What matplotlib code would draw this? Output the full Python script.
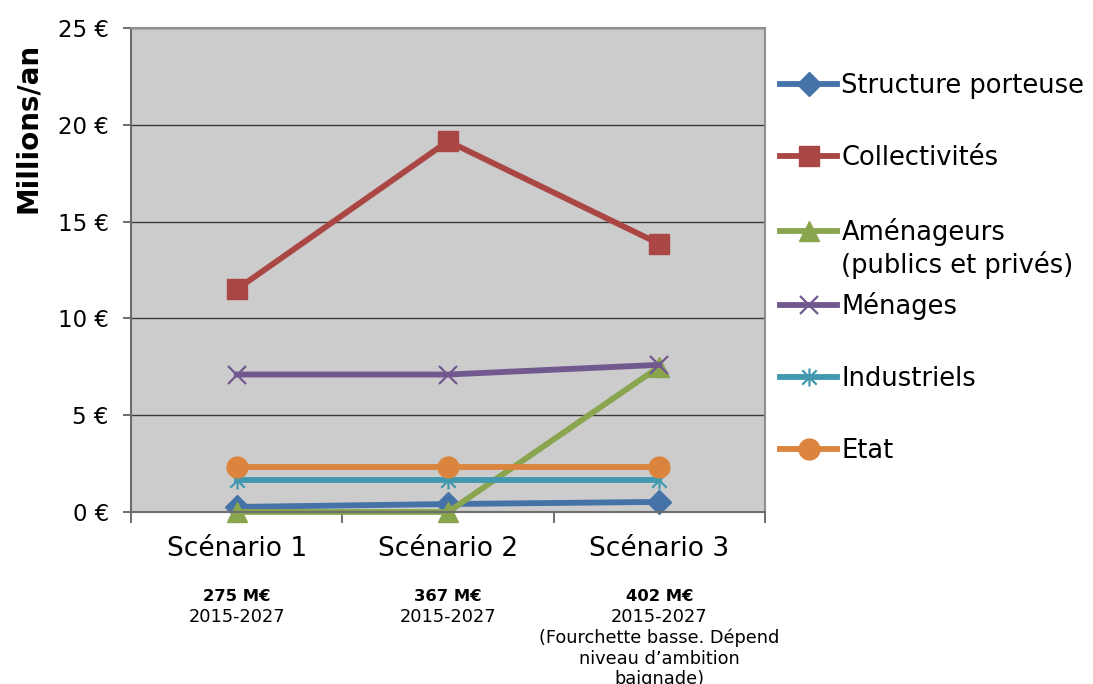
import matplotlib
matplotlib.use("Agg")
import matplotlib.pyplot as plt
from matplotlib.path import Path
from matplotlib.ticker import FuncFormatter, FixedLocator

plt.rcParams["font.family"] = ["DejaVu Sans"]

# ── Data ─────────────────────────────────────────────────────────────────
scenarios = ["Scénario 1", "Scénario 2", "Scénario 3"]
totals = ["275 M€", "367 M€", "402 M€"]
periods = [
    "2015-2027",
    "2015-2027",
    "2015-2027\n(Fourchette basse. Dépend\nniveau d’ambition\nbaignade)",
]

structure_porteuse = [0.26, 0.41, 0.52]
collectivites = [11.5, 19.15, 13.85]
amenageurs = [0.0, 0.0, 7.5]
menages = [7.1, 7.1, 7.6]
industriels = [1.65, 1.65, 1.65]
etat = [2.3, 2.3, 2.3]

# asterisk marker: vertical stroke plus a cross
ASTERISK = Path(
    [(0, -1), (0, 1), (-0.8, -0.8), (0.8, 0.8), (-0.8, 0.8), (0.8, -0.8)],
    [Path.MOVETO, Path.LINETO, Path.MOVETO, Path.LINETO, Path.MOVETO, Path.LINETO],
)

series = [
    ("Structure porteuse", structure_porteuse, "#4572A7", dict(marker="D", markersize=12.5)),
    ("Collectivités", collectivites, "#AA4643", dict(marker="s", markersize=14)),
    ("Aménageurs", amenageurs, "#89A54E", dict(marker="^", markersize=15)),
    ("Ménages", menages, "#71588F", dict(marker="x", markersize=13, markeredgewidth=1.6)),
    ("Industriels", industriels, "#4198AF", dict(marker=ASTERISK, markersize=13, markeredgewidth=1.6)),
    ("Etat", etat, "#DB843D", dict(marker="o", markersize=15)),
]

fig = plt.figure(figsize=(10.93, 6.84), dpi=100)
ax = fig.add_axes([0.1199, 0.2515, 0.58, 0.7076])
ax.set_facecolor("#CCCCCC")

x = list(range(len(scenarios)))
for name, vals, color, mk in series:
    ax.plot(x, vals, color=color, linewidth=4.2, label=name, clip_on=False,
            markerfacecolor=color, markeredgecolor=color, **mk)

ax.set_xlim(-0.5, 2.5)
ax.set_ylim(0, 25)
ax.set_yticks([0, 5, 10, 15, 20, 25])
ax.yaxis.set_major_formatter(FuncFormatter(lambda v, _: f"{v:.0f} €"))
ax.grid(True, axis="y", color="#3a3a3a", linewidth=1.0)
ax.set_axisbelow(True)

ax.set_xticks(x)
ax.set_xticklabels(scenarios)
ax.xaxis.set_minor_locator(FixedLocator([-0.5, 0.5, 1.5, 2.5]))
ax.tick_params(axis="x", which="major", length=0, pad=17, labelsize=19)
ax.tick_params(axis="x", which="minor", length=8, width=1.2, color="#555555", direction="out")
ax.tick_params(axis="y", length=6, width=1.2, color="#555555", pad=10, labelsize=16.5)

for side in ["left", "bottom"]:
    ax.spines[side].set_color("#6e6e6e")
    ax.spines[side].set_linewidth(1.5)
for side in ["top", "right"]:
    ax.spines[side].set_color("#8f8f8f")
    ax.spines[side].set_linewidth(1.5)

ax.set_ylabel("Millions/an", fontsize=20, fontweight="bold")
ax.yaxis.set_label_coords(-0.14, 0.793)

# totals and periods under each scenario
trans = ax.get_xaxis_transform()
for i, (tot, per) in enumerate(zip(totals, periods)):
    ax.text(i, -0.174, tot, transform=trans, ha="center", va="center",
            fontsize=11.8, fontweight="bold")
    ax.text(i, -0.199, per, transform=trans, ha="center", va="top",
            fontsize=12.8, linespacing=1.17)

leg = ax.legend(loc="upper left", bbox_to_anchor=(0.7045, 0.908), bbox_transform=fig.transFigure,
                frameon=False, fontsize=18.5, handlelength=2.2, handletextpad=0.18,
                labelspacing=1.8, borderaxespad=0)

# second line of the Aménageurs entry
fig.canvas.draw()
bb = leg.get_texts()[2].get_window_extent()
x0, y0 = fig.transFigure.inverted().transform((bb.x0, bb.y0))
fig.text(x0, y0 - 0.008, "(publics et privés)", ha="left", va="top", fontsize=18.5)

fig.savefig("out.png", dpi=100)
